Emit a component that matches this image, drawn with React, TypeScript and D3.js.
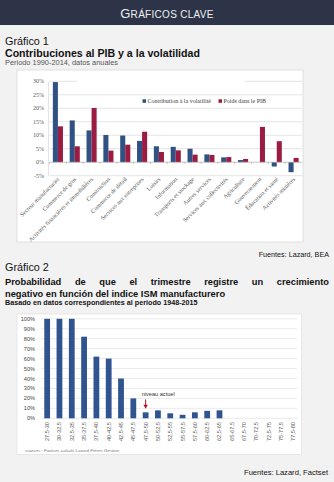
import React, { useEffect } from "react";
import * as d3 from "d3";

// ---------- Data ----------
const sectors = [
  "Secteur manufacturier",
  "Commerce de gros",
  "Activités financières et immobilières",
  "Construction",
  "Commerce de détail",
  "Services aux entreprises",
  "Loisirs",
  "Information",
  "Transports et stockage",
  "Autres services",
  "Services aux collectivités",
  "Agriculture",
  "Gouvernement",
  "Éducation et santé",
  "Activités minières",
];
const contribution = [29.7, 15.5, 11.8, 10.1, 9.9, 7.9, 5.9, 5.7, 5.0, 2.9, 1.8, 0.8, 0, -1.6, -3.7];
const poids = [13.3, 5.9, 20.1, 4.3, 6.5, 11.3, 3.8, 4.4, 2.8, 2.7, 1.9, 1.2, 13.1, 7.8, 1.6];
const ticks1 = [-5, 0, 5, 10, 15, 20, 25, 30];
const seriesNames1 = ["Contribution à la volatilité", "Poids dans le PIB"];

const ismRanges = [
  "27,5-30", "30-32,5", "32,5-35", "35-37,5", "37,5-40", "40-42,5", "42,5-45",
  "45-47,5", "47,5-50", "50-52,5", "52,5-55", "55-57,5", "57,5-60", "60-62,5",
  "62,5-65", "65-67,5", "67,5-70", "70-72,5", "72,5-75", "75-77,5", "77,5-80",
];
const probability = [100, 100, 100, 82, 62, 60, 40, 20, 6, 8, 5, 3.5, 6, 7.5, 8, 0, 0, 0, 0, 0, 0];
const ticks2 = [0, 10, 20, 30, 40, 50, 60, 70, 80, 90, 100];
const currentLevel = "47,5-50";

const BLUE = "#2f5183";
const RED = "#9a1c42";
const BLUE2 = "#2f5490";
const SANS = "'Liberation Sans', Arial, sans-serif";
const SERIF = "'Liberation Serif', 'DejaVu Serif', serif";

export default function App() {
  useEffect(() => {
    document.body.style.margin = "0";
  }, []);

  const W = 334;
  const H = 482;

  // ---- chart 1 scales ----
  const x1 = d3.scaleBand<string>().domain(sectors).range([49.5, 302]).paddingInner(0.4).paddingOuter(0.2);
  const xs1 = d3.scaleBand<number>().domain([0, 1]).range([0, x1.bandwidth()]);
  const y1 = d3.scaleLinear().domain([-5, 30]).range([175.7, 81.3]);
  const step1 = x1.step();

  // ---- chart 2 scales ----
  const x2 = d3.scaleBand<string>().domain(ismRanges).range([41, 299.5]).paddingInner(0.53).paddingOuter(0.265);
  const y2 = d3.scaleLinear().domain([0, 100]).range([418.3, 318.8]);
  const curX = (x2(currentLevel) as number) + x2.bandwidth() / 2;
  const curY = y2(probability[ismRanges.indexOf(currentLevel)]);

  return (
    <div style={{ position: "absolute", left: 0, top: 0 }}>
      <svg width={W} height={H} style={{ display: "block" }}>
        <defs>
          <clipPath id="box1clip">
            <rect x={17} y={70} width={286} height={172} />
          </clipPath>
        </defs>
        <rect x={0} y={0} width={W} height={H} fill="#f2f2f2" />
        {/* header */}
        <rect x={0} y={0} width={W} height={25} fill="#2d3447" />
        <text x={W / 2} y={17.7} textAnchor="middle" fill="#eef0f4" fontFamily={SANS} letterSpacing={0.3}>
          <tspan fontSize={13}>G</tspan>
          <tspan fontSize={10}>RÁFICOS CLAVE</tspan>
        </text>

        {/* chart 1 titles */}
        <text x={5} y={45} fontFamily={SANS} fontSize={10.8} fill="#111">Gráfico 1</text>
        <text x={5} y={56.5} fontFamily={SANS} fontSize={10.6} fontWeight="bold" fill="#111">
          Contribuciones al PIB y a la volatilidad
        </text>
        <text x={5} y={65} fontFamily={SANS} fontSize={7.4} fill="#555">Periodo 1990-2014, datos anuales</text>

        {/* chart 1 box */}
        <rect x={17} y={70} width={286} height={172} fill="#fff" stroke="#d9d9d9" strokeWidth={0.8} />
        {/* gridlines */}
        {ticks1.map((t) =>
          t === 30 ? (
            <g key={t}>
              <line x1={49.5} x2={77} y1={y1(t)} y2={y1(t)} stroke="#d9d9d9" strokeWidth={0.7} />
              <line x1={245} x2={302} y1={y1(t)} y2={y1(t)} stroke="#d9d9d9" strokeWidth={0.7} />
            </g>
          ) : t === 0 ? null : (
            <line key={t} x1={49.5} x2={302} y1={y1(t)} y2={y1(t)} stroke="#d9d9d9" strokeWidth={0.7} />
          )
        )}
        <line x1={48.5} x2={48.5} y1={y1(30)} y2={y1(-5)} stroke="#d9d9d9" strokeWidth={0.7} />
        {ticks1.map((t) => (
          <text key={t} x={44} y={y1(t) + 2} textAnchor="end" fontFamily={SERIF} fontSize={6} fill="#595959">
            {t}%
          </text>
        ))}
        {/* bars */}
        {sectors.map((s, i) => {
          const bx = x1(s) as number;
          const vals = [contribution[i], poids[i]];
          return vals.map((v, k) => (
            <rect
              key={s + k}
              x={bx + (xs1(k) as number)}
              y={Math.min(y1(v), y1(0))}
              width={xs1.bandwidth()}
              height={Math.abs(y1(v) - y1(0))}
              fill={k === 0 ? BLUE : RED}
            />
          ));
        })}
        {/* zero axis */}
        <line x1={49.5} x2={302} y1={y1(0)} y2={y1(0)} stroke="#a6a6a6" strokeWidth={0.7} />
        {sectors.map((s) => (
          <line
            key={"tk" + s}
            x1={(x1(s) as number) - (step1 - x1.bandwidth()) / 2}
            x2={(x1(s) as number) - (step1 - x1.bandwidth()) / 2}
            y1={y1(0)}
            y2={y1(0) + 2}
            stroke="#a6a6a6"
            strokeWidth={0.6}
          />
        ))}
        {/* x labels */}
        <g clipPath="url(#box1clip)">
          {sectors.map((s) => {
            const cx = (x1(s) as number) + x1.bandwidth() / 2 + 2;
            const cy = 179.5;
            return (
              <text
                key={"lb" + s}
                x={cx}
                y={cy}
                transform={`rotate(-45 ${cx} ${cy})`}
                textAnchor="end"
                fontFamily={SERIF}
                fontSize={6}
                fill="#595959"
              >
                {s}
              </text>
            );
          })}
        </g>
        {/* legend */}
        {seriesNames1.map((n, k) => {
          const lx = k === 0 ? 142.5 : 218.5;
          return (
            <g key={n}>
              <rect x={lx} y={99.3} width={3.5} height={3.5} fill={k === 0 ? BLUE : RED} />
              <text x={lx + 5} y={103} fontFamily={SERIF} fontSize={6} fill="#404040">
                {n}
              </text>
            </g>
          );
        })}

        <text x={329} y={257} textAnchor="end" fontFamily={SANS} fontSize={7.2} fill="#111">
          Fuentes: Lazard, BEA
        </text>

        {/* chart 2 titles */}
        <text x={5} y={271} fontFamily={SANS} fontSize={10.8} fill="#111">Gráfico 2</text>
        <text x={5} y={285.3} fontFamily={SANS} fontSize={9.3} fontWeight="bold" fill="#111" wordSpacing={11}>
          Probabilidad de que el trimestre registre un crecimiento
        </text>
        <text x={5} y={296.6} fontFamily={SANS} fontSize={9.3} fontWeight="bold" fill="#111">
          negativo en función del indice ISM manufacturero
        </text>
        <text x={5} y={305.3} fontFamily={SANS} fontSize={7.2} fontWeight="bold" fill="#111">
          Basado en datos correspondientes al periodo 1948-2015
        </text>

        {/* chart 2 box */}
        <rect x={17} y={314} width={284.5} height={140.5} fill="#fff" stroke="#e3e3e3" strokeWidth={0.8} />
        {ticks2.map((t) => (
          <line key={t} x1={41} x2={297} y1={y2(t)} y2={y2(t)} stroke="#dcdcdc" strokeWidth={0.6} />
        ))}
        {ticks2.map((t) => (
          <text key={"t2" + t} x={35} y={y2(t) + 2} textAnchor="end" fontFamily={SANS} fontSize={5.6} fill="#444">
            {t}%
          </text>
        ))}
        {ismRanges.map((r, i) => (
          <rect
            key={r}
            x={x2(r) as number}
            y={y2(probability[i])}
            width={x2.bandwidth()}
            height={y2(0) - y2(probability[i])}
            fill={BLUE2}
          />
        ))}
        {ismRanges.map((r) => {
          const cx = (x2(r) as number) + x2.bandwidth() / 2 + 2;
          const cy = 422;
          return (
            <text
              key={"l2" + r}
              x={cx}
              y={cy}
              transform={`rotate(-90 ${cx} ${cy})`}
              textAnchor="end"
              fontFamily={SANS}
              fontSize={5.6}
              fill="#555"
            >
              {r}
            </text>
          );
        })}
        {/* annotation */}
        <text x={141.7} y={396} fontFamily={SANS} fontSize={5.6} fill="#333">niveau actuel</text>
        <line x1={curX} x2={curX} y1={399.5} y2={curY - 7} stroke="#b0102a" strokeWidth={1} />
        <path
          d={`M${curX - 2.2},${curY - 7.5} L${curX + 2.2},${curY - 7.5} L${curX},${curY - 3.5} Z`}
          fill="#b0102a"
        />
        <text x={25} y={452} fontFamily={SANS} fontSize={4.4} fontStyle="italic" fill="#777">
          sources : Factset, calculs Lazard Frères Gestion
        </text>

        <text x={328} y={475} textAnchor="end" fontFamily={SANS} fontSize={7.6} fill="#111">
          Fuentes: Lazard, Factset
        </text>
      </svg>
    </div>
  );
}
